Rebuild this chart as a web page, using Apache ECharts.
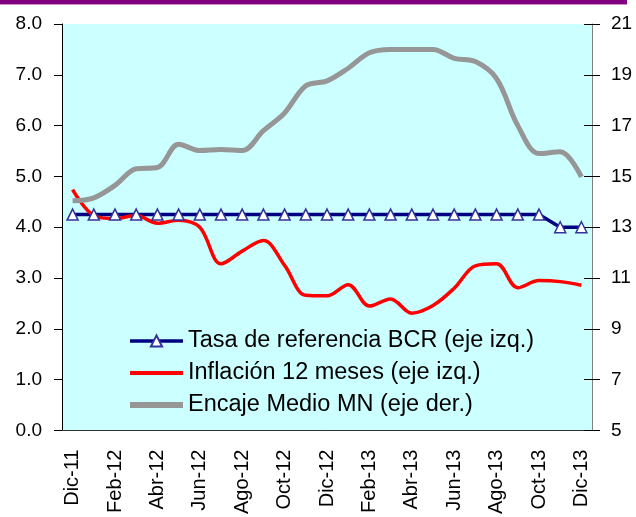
<!DOCTYPE html>
<html>
<head>
<meta charset="utf-8">
<script src="https://cdn.jsdelivr.net/npm/echarts@6/dist/echarts.min.js"></script>
<style>
  html, body { margin: 0; padding: 0; background: #fff; }
  #chart { width: 636px; height: 517px; }
</style>
</head>
<body>
<div id="chart"></div>
<script>
// months Dic-11 .. Dic-13
var months = ['Dic-11','Ene-12','Feb-12','Mar-12','Abr-12','May-12','Jun-12','Jul-12','Ago-12','Set-12','Oct-12','Nov-12',
              'Dic-12','Ene-13','Feb-13','Mar-13','Abr-13','May-13','Jun-13','Jul-13','Ago-13','Set-13','Oct-13','Nov-13','Dic-13'];

// Tasa de referencia BCR (eje izq.)
var tasaRef = [4.25,4.25,4.25,4.25,4.25,4.25,4.25,4.25,4.25,4.25,4.25,4.25,
               4.25,4.25,4.25,4.25,4.25,4.25,4.25,4.25,4.25,4.25,4.25,4.00,4.00];

// Inflación 12 meses (eje izq.)
var inflacion = [4.74,4.23,4.17,4.23,4.08,4.14,4.00,3.28,3.53,3.74,3.25,2.66,
                 2.65,2.87,2.45,2.59,2.31,2.46,2.80,3.24,3.28,2.81,2.95,2.93,2.86];

// Encaje Medio MN (eje der.)
var encaje = [14.04,14.16,14.65,15.30,15.35,16.27,16.02,16.06,16.02,16.80,17.50,18.57,
              18.76,19.26,19.87,20.00,20.00,20.00,19.65,19.52,18.85,17.00,15.90,15.97,14.98];

var leftTicks = { min: 0, max: 8, interval: 1 };
var rightTicks = { min: 5, max: 21, interval: 2 };

var font = 'Liberation Sans, Arial, sans-serif';
var noDot = { color: 'transparent', borderColor: 'transparent', opacity: 0 };

var chart = echarts.init(document.getElementById('chart'));
chart.setOption({
  animation: false,
  backgroundColor: '#ffffff',
  graphic: [
    { type: 'rect', shape: { x: 0, y: 0, width: 627, height: 4 }, style: { fill: '#800080' } },
    { type: 'rect', shape: { x: 0, y: 4, width: 627, height: 1 }, style: { fill: '#c890c8' } }
  ],
  grid: {
    left: 62, top: 24, width: 530, height: 410,
    show: true, backgroundColor: '#CCFFFF', borderWidth: 0
  },
  legend: {
    orient: 'vertical',
    left: 127, top: 329, padding: 0,
    itemWidth: 53, itemHeight: 14, itemGap: 8,
    textStyle: { fontFamily: font, fontSize: 23.5, color: '#000' },
    data: [
      { name: 'Tasa de referencia BCR (eje izq.)', lineStyle: { width: 3.5 } },
      { name: 'Inflación 12 meses (eje izq.)', itemStyle: noDot, lineStyle: { width: 4 } },
      { name: 'Encaje Medio MN (eje der.)', itemStyle: noDot, lineStyle: { width: 6 } }
    ]
  },
  xAxis: {
    type: 'category',
    data: months,
    boundaryGap: true,
    axisLine: { lineStyle: { color: '#333', width: 1 } },
    axisTick: { interval: 1, length: 6, lineStyle: { color: '#333' } },
    axisLabel: {
      interval: 1, rotate: 90, margin: 19,
      fontFamily: font, fontSize: 20, color: '#000',
      padding: [0, 0, 7, 0]
    },
    splitLine: { show: false }
  },
  yAxis: [
    {
      type: 'value', position: 'left',
      min: leftTicks.min, max: leftTicks.max, interval: leftTicks.interval,
      axisLine: { show: true, lineStyle: { color: '#000' } },
      axisTick: { show: true, length: 8, lineStyle: { color: '#000' } },
      axisLabel: { margin: 20, fontFamily: font, fontSize: 19, color: '#000',
        formatter: function (v) { return v.toFixed(1); } },
      splitLine: { show: false }
    },
    {
      type: 'value', position: 'right',
      min: rightTicks.min, max: rightTicks.max, interval: rightTicks.interval,
      axisLine: { show: true, lineStyle: { color: '#808080' } },
      axisTick: { show: true, length: 8, lineStyle: { color: '#000' } },
      axisLabel: { margin: 19, fontFamily: font, fontSize: 19, color: '#000' },
      splitLine: { show: false }
    },
    {
      // inner half of the right-hand ticks
      type: 'value', position: 'right',
      min: rightTicks.min, max: rightTicks.max, interval: rightTicks.interval,
      axisLine: { show: false },
      axisTick: { show: true, inside: true, length: 8, lineStyle: { color: '#000' } },
      axisLabel: { show: false },
      splitLine: { show: false }
    }
  ],
  series: [
    {
      name: 'Tasa de referencia BCR (eje izq.)',
      type: 'line', yAxisIndex: 0,
      data: tasaRef,
      symbol: 'triangle', symbolSize: 11,
      lineStyle: { color: '#000080', width: 3.5 },
      itemStyle: { color: '#ffffff', borderColor: '#333399', borderWidth: 1.5 }
    },
    {
      name: 'Inflación 12 meses (eje izq.)',
      type: 'line', yAxisIndex: 0,
      data: inflacion,
      symbol: 'none', smooth: 0.35,
      lineStyle: { color: '#ff0000', width: 3.5 },
      itemStyle: { color: '#ff0000' }
    },
    {
      name: 'Encaje Medio MN (eje der.)',
      type: 'line', yAxisIndex: 1,
      data: encaje,
      symbol: 'none', smooth: 0.35,
      lineStyle: { color: '#969696', width: 5 },
      itemStyle: { color: '#969696' }
    }
  ]
});
</script>
</body>
</html>
